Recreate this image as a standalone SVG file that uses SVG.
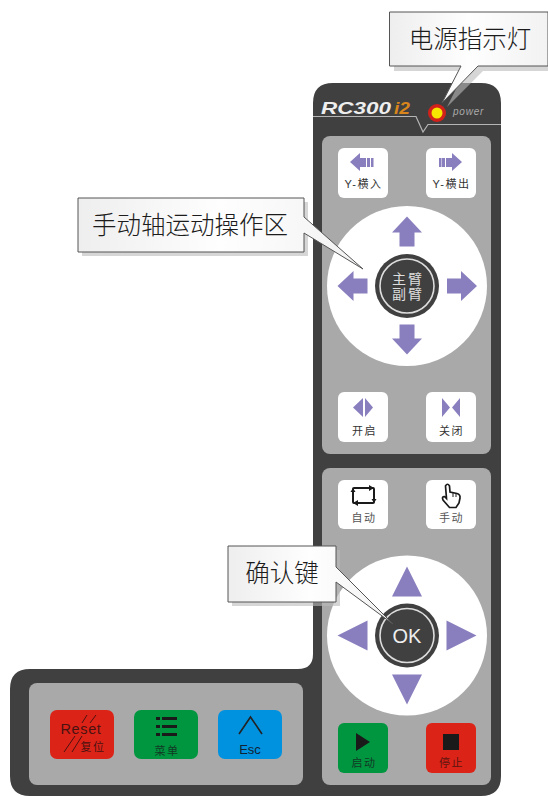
<svg xmlns="http://www.w3.org/2000/svg" width="548" height="796" viewBox="0 0 548 796">
<defs>
<linearGradient id="cg" x1="0" y1="0" x2="1" y2="0"><stop offset="0" stop-color="#eeeeee"/><stop offset="0.5" stop-color="#fefefe"/><stop offset="1" stop-color="#f2f2f2"/></linearGradient>
<path id="bigArrow" d="M0,-15 L15,1 L7.500,1 V15 H-7.500 V1 H-15 Z"/>
<path id="tri" d="M0,-15 L15,15 L-15,15 Z"/>
</defs>
<style>
text{font-family:"Liberation Sans","Noto Sans CJK SC",sans-serif}
.call{font-family:"Noto Sans CJK SC",serif;font-size:24.500px;fill:#1c1c1c;text-anchor:middle;font-weight:300}
.gray{fill:#a9a9a9}
.btn{fill:#fff}
.arr{fill:#8a7fbe}
.lab{font-size:11px;fill:#333;text-anchor:middle;letter-spacing:1.500px}
.dk{font-size:11px;text-anchor:middle;letter-spacing:1.500px}
.box{fill:url(#cg);stroke:#555;stroke-width:1}
.shadow{fill:#bbb;opacity:.6}
.ln{fill:none;stroke:#222;stroke-width:1.600}
</style>
<rect width="548" height="796" fill="#fff"/>
<g id="panel">
<path d="M333,83 H481 Q501,83 501,103 V776 Q501,796 481,796 H30 Q10,796 10,776 V689 Q10,669 30,669 H298 Q313,669 313,654 V103 Q313,83 333,83 Z" fill="#404040"/>
<rect class="gray" x="322" y="136" width="169" height="318" rx="8"/>
<rect class="gray" x="322" y="468" width="169" height="317" rx="8"/>
<rect class="gray" x="29" y="683" width="274" height="102" rx="8"/>
<path d="M313,116.500 H416 L423,132 L428,124.500 H501" fill="none" stroke="#b5b5b5" stroke-width="1.200"/>
<text x="321" y="114" font-size="17" font-weight="bold" font-style="italic" fill="#eee" textLength="70" lengthAdjust="spacingAndGlyphs">RC300</text>
<text x="394" y="114" font-size="17" font-weight="bold" font-style="italic" fill="#d8861c" textLength="16" lengthAdjust="spacingAndGlyphs">i2</text>
<text x="453" y="115" font-size="10" font-style="italic" fill="#aaa" letter-spacing=".8">power</text>
</g>
<g id="led">
<circle cx="437" cy="113" r="9" fill="#d2201a"/>
<circle cx="437" cy="113" r="5.500" fill="#f7e600"/>
</g>
<g id="btn-y-in">
<rect class="btn" x="338" y="148" width="50" height="50" rx="6"/>
<path class="arr" d="M350,162 L360,153 V158 H366 V167 H360 V171 Z"/>
<path class="arr" d="M367,158 h3 v9 h-3 Z M371,158 h2.500 v9 h-2.500 Z"/>
<text class="lab" x="363.500" y="188">Y-横入</text>
</g>
<g id="btn-y-out">
<rect class="btn" x="426" y="148" width="50" height="50" rx="6"/>
<path class="arr" d="M462,162 L452,153 V158 H446 V167 H452 V171 Z"/>
<path class="arr" d="M439,158 h2.500 v9 h-2.500 Z M442,158 h3 v9 h-3 Z"/>
<text class="lab" x="451.500" y="188">Y-横出</text>
</g>
<g id="pad-arm">
<circle cx="407" cy="286" r="80" fill="#fff"/>
<use class="arr" href="#bigArrow" transform="translate(407,231.500)"/>
<use class="arr" href="#bigArrow" transform="translate(407,339.500) rotate(180)"/>
<use class="arr" href="#bigArrow" transform="translate(352.500,286) rotate(-90)"/>
<use class="arr" href="#bigArrow" transform="translate(462,286) rotate(90)"/>
<circle cx="407" cy="286" r="32" fill="#404040"/>
<circle cx="407" cy="286" r="27" fill="none" stroke="#ddd" stroke-width="1.600"/>
<text x="408" y="284" font-size="14" fill="#ddd" text-anchor="middle" letter-spacing="2">主臂</text>
<text x="408" y="299" font-size="14" fill="#ddd" text-anchor="middle" letter-spacing="2">副臂</text>
</g>
<g id="btn-open">
<rect class="btn" x="338" y="392" width="50" height="50" rx="6"/>
<path class="arr" d="M363,398 V417 L353,407.500 Z M365,398 V417 L373,407.500 Z"/>
<text class="lab" x="364.500" y="435">开启</text>
</g>
<g id="btn-close">
<rect class="btn" x="426" y="392" width="50" height="50" rx="6"/>
<path class="arr" d="M442,398 V417 L450,407.500 Z M460,398 V417 L452,407.500 Z"/>
<text class="lab" x="451.500" y="435">关闭</text>
</g>
<g id="btn-auto">
<rect class="btn" x="338" y="480" width="50" height="49" rx="6"/>
<rect x="353" y="488" width="21" height="15" rx="1" fill="none" stroke="#1a1a1a" stroke-width="2"/>
<path d="M369,485 L374,488 L369,491 Z M358,500 L353,503 L358,506 Z M350.500,492 L353,488 L355.500,492 Z M371.500,499 L374,503 L376.500,499 Z" fill="#1a1a1a"/>
<text class="lab" x="364" y="522" style="fill:#555">自动</text>
</g>
<g id="btn-manual">
<rect class="btn" x="426" y="480" width="50" height="49" rx="6"/>
<path d="M445.500,486 Q447.500,482.500 449.500,486 L450,492 L457,493.500 Q460.500,494.500 460,498 L459,503 L456,507.500 H449.500 L443,500 Q441.500,496.500 444.500,496.500 L446.500,498.500 Z" fill="#fff" stroke="#1a1a1a" stroke-width="1.700"/>
<path d="M453,493 V497 M456,494 V497" stroke="#1a1a1a" fill="none" stroke-width="1"/>
<text class="lab" x="451.500" y="522" style="fill:#555">手动</text>
</g>
<g id="pad-ok">
<circle cx="407" cy="635.500" r="80" fill="#fff"/>
<use class="arr" href="#tri" transform="translate(407,581.500)"/>
<use class="arr" href="#tri" transform="translate(407,689.500) rotate(180)"/>
<use class="arr" href="#tri" transform="translate(352.500,635.500) rotate(-90)"/>
<use class="arr" href="#tri" transform="translate(461.500,635.500) rotate(90)"/>
<circle cx="407" cy="635.500" r="32" fill="#404040"/>
<circle cx="407" cy="635.500" r="27" fill="none" stroke="#ddd" stroke-width="1.600"/>
<text x="407" y="642.500" font-size="20" fill="#eee" text-anchor="middle">OK</text>
</g>
<g id="btn-start">
<rect x="338" y="723" width="50" height="50" rx="6" fill="#009640"/>
<path d="M356,733 L370,742 L356,751 Z" fill="#1a1a1a"/>
<text class="dk" x="364" y="767" style="fill:#123a24">启动</text>
</g>
<g id="btn-stop">
<rect x="426" y="723" width="50" height="50" rx="6" fill="#dc2318"/>
<rect x="443" y="734" width="16" height="16" fill="#1a1a1a"/>
<text class="dk" x="451.500" y="767" style="fill:#5a1510">停止</text>
</g>
<g id="btn-reset">
<rect x="50" y="710" width="64" height="49" rx="7" fill="#dc2318"/>
<path d="M82,723 L87,715 M90,723 L96,715 M64,752 L75,736 M72,752 L82,736" class="ln" style="stroke:#4a1210;stroke-width:1"/>
<text x="81" y="734" font-size="14.500" fill="#4a1210" text-anchor="middle" letter-spacing=".6">Reset</text>
<text x="93" y="751" font-size="11" fill="#4a1210" text-anchor="middle" letter-spacing="1.500">复位</text>
</g>
<g id="btn-menu">
<rect x="134" y="710" width="64" height="49" rx="7" fill="#009640"/>
<path d="M156,718.500 H160 M162,718.500 H177 M156,726.500 H160 M162,726.500 H177 M156,734.500 H160 M162,734.500 H177" fill="none" stroke="#1a1a1a" stroke-width="3"/>
<text x="167" y="755" font-size="11" fill="#123a24" text-anchor="middle" letter-spacing="1.500">菜单</text>
</g>
<g id="btn-esc">
<rect x="218" y="710" width="64" height="49" rx="7" fill="#0092df"/>
<path d="M239,734 L250.500,717 L262,734" class="ln"/>
<text x="250" y="754" font-size="13" fill="#123" text-anchor="middle">Esc</text>
</g>
<g id="callout-power">
<path class="shadow" d="M394,17 H548 V71 H483 L447,107 L465,71 H394 Z"/>
<path class="box" d="M389.500,12 H548 V66 H478 L442,103 L461,66 H389.500 Z"/>
<text class="call" x="470" y="48">电源指示灯</text>
</g>
<g id="callout-axis">
<path class="shadow" d="M82,202 H308 V256 H82 Z"/>
<path class="box" d="M78,198 H304 V217 L363,269 L304,233 V252 H78 Z"/>
<text class="call" x="190" y="234">手动轴运动操作区</text>
</g>
<g id="callout-ok">
<path class="shadow" d="M232,550 H340 V606 H232 Z"/>
<path class="box" d="M228,546 H336 V567 L393,624 L336,582 V602 H228 Z"/>
<text class="call" x="282" y="582">确认键</text>
</g>
</svg>
